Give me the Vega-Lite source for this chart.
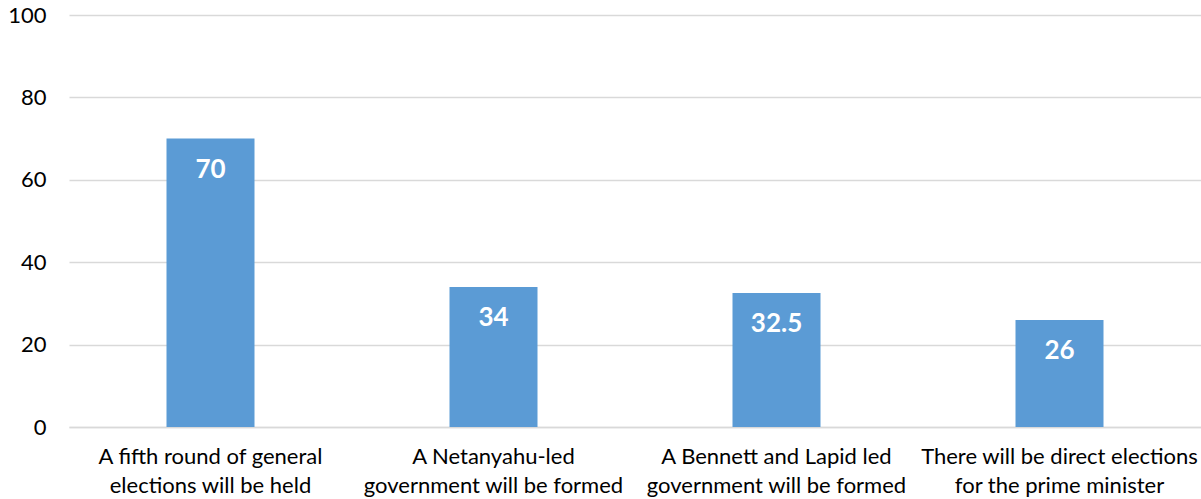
{
  "$schema": "https://vega.github.io/schema/vega-lite/v6.json",
  "width": 1132,
  "height": 412,
  "autosize": {"type": "none"},
  "padding": {"left": 69, "top": 15, "right": 0, "bottom": 72},
  "background": "white",
  "config": {"view": {"stroke": null}, "font": "Lato"},
  "data": {
    "values": [
      {"outcome": "A fifth round of general|elections will be held", "value": 70},
      {"outcome": "A Netanyahu-led|government will be formed", "value": 34},
      {"outcome": "A Bennett and Lapid led|government will be formed", "value": 32.5},
      {"outcome": "There will be direct elections|for the prime minister", "value": 26}
    ]
  },
  "encoding": {
    "x": {
      "field": "outcome",
      "type": "nominal",
      "sort": null,
      "scale": {"paddingInner": 0, "paddingOuter": 0},
      "axis": {
        "title": null,
        "labelAngle": 0,
        "labelExpr": "split(datum.label, '|')",
        "labelFont": "Lato",
        "labelFontSize": 22,
        "labelColor": "#000000",
        "labelLineHeight": 29,
        "labelPadding": 19,
        "labelLimit": 400,
        "ticks": false,
        "domainColor": "#d9d9d9",
        "domainWidth": 1.5
      }
    },
    "y": {
      "field": "value",
      "type": "quantitative",
      "scale": {"domain": [0, 100]},
      "axis": {
        "title": null,
        "values": [0, 20, 40, 60, 80, 100],
        "labelFont": "Lato",
        "labelFontSize": 22,
        "labelColor": "#000000",
        "labelPadding": 23,
        "ticks": false,
        "domain": false,
        "gridColor": "#d9d9d9",
        "gridWidth": 1.5
      }
    }
  },
  "layer": [
    {"mark": {"type": "bar", "color": "#5b9bd5", "size": 88}},
    {
      "mark": {"type": "text", "color": "white", "fontWeight": "bold", "fontSize": 26, "baseline": "top", "dy": 18, "font": "Lato"},
      "encoding": {"text": {"field": "value", "type": "quantitative"}}
    }
  ]
}
